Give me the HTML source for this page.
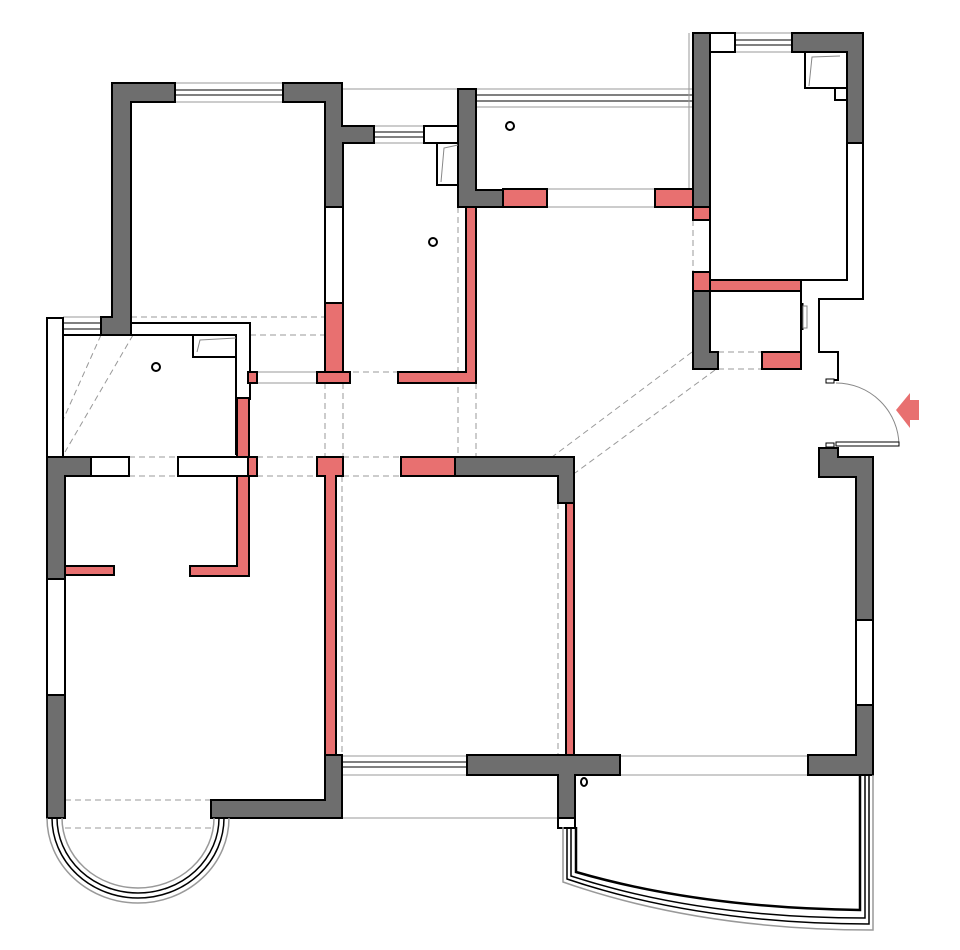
<!DOCTYPE html>
<html><head><meta charset="utf-8"><style>html,body{margin:0;padding:0;background:#fff}svg{display:block}</style></head>
<body>
<svg width="960" height="950" viewBox="0 0 960 950" xmlns="http://www.w3.org/2000/svg">
<g fill="none" stroke="#999" stroke-width="1">
<line x1="175" y1="83" x2="283" y2="83"/><line x1="175" y1="102" x2="283" y2="102"/>
<line x1="175" y1="90" x2="283" y2="90" stroke="#000"/><line x1="175" y1="95" x2="283" y2="95" stroke="#000"/>
<line x1="342" y1="89" x2="458" y2="89"/>
<line x1="374" y1="126" x2="424" y2="126"/><line x1="374" y1="143" x2="424" y2="143"/>
<line x1="374" y1="132" x2="424" y2="132" stroke="#000"/><line x1="374" y1="137" x2="424" y2="137" stroke="#000"/>
<line x1="476" y1="89" x2="692" y2="89"/><line x1="476" y1="107" x2="692" y2="107"/>
<line x1="476" y1="95" x2="692" y2="95" stroke="#000"/><line x1="476" y1="101" x2="692" y2="101" stroke="#000"/>
<line x1="689" y1="33" x2="689" y2="190"/>
<line x1="547" y1="189" x2="655" y2="189"/><line x1="547" y1="207" x2="655" y2="207"/>
<line x1="735" y1="33" x2="792" y2="33"/><line x1="735" y1="52" x2="792" y2="52"/>
<line x1="735" y1="40" x2="792" y2="40" stroke="#000"/><line x1="735" y1="45" x2="792" y2="45" stroke="#000"/>
<line x1="63" y1="317" x2="101" y2="317"/><line x1="63" y1="335" x2="101" y2="335"/>
<line x1="63" y1="323" x2="101" y2="323" stroke="#000"/><line x1="63" y1="329" x2="101" y2="329" stroke="#000"/>
<line x1="257" y1="372" x2="317" y2="372"/><line x1="257" y1="383" x2="317" y2="383"/>
<line x1="342" y1="756" x2="467" y2="756"/><line x1="342" y1="775" x2="467" y2="775"/>
<line x1="342" y1="762" x2="467" y2="762" stroke="#000"/><line x1="342" y1="767" x2="467" y2="767" stroke="#000"/>
<line x1="620" y1="756" x2="808" y2="756"/><line x1="620" y1="775" x2="808" y2="775"/>
<line x1="342" y1="818" x2="558" y2="818"/>
</g>
<g fill="none" stroke="#999" stroke-width="1" stroke-dasharray="6,4">
<line x1="131" y1="317" x2="325" y2="317"/><line x1="250" y1="335" x2="325" y2="335"/>
<line x1="129" y1="457" x2="178" y2="457"/><line x1="129" y1="476" x2="178" y2="476"/>
<line x1="257" y1="457" x2="317" y2="457"/><line x1="257" y1="476" x2="317" y2="476"/>
<line x1="343" y1="457" x2="401" y2="457"/><line x1="343" y1="476" x2="401" y2="476"/>
<line x1="325" y1="383" x2="325" y2="457"/><line x1="343" y1="383" x2="343" y2="457"/>
<line x1="458" y1="207" x2="458" y2="457"/><line x1="476" y1="383" x2="476" y2="457"/>
<line x1="343" y1="372" x2="466" y2="372"/>
<line x1="342" y1="476" x2="342" y2="755"/><line x1="558" y1="503" x2="558" y2="755"/>
<line x1="693" y1="220" x2="693" y2="272"/><line x1="710" y1="220" x2="710" y2="272"/>
<line x1="718" y1="352" x2="762" y2="352"/><line x1="718" y1="369" x2="762" y2="369"/>
<line x1="101" y1="335" x2="63" y2="420"/><line x1="133" y1="335" x2="65" y2="452"/>
<line x1="692" y1="352" x2="552" y2="457"/><line x1="715" y1="370" x2="575" y2="473"/>
<line x1="65" y1="800" x2="211" y2="800"/><line x1="65" y1="828" x2="211" y2="828"/>
</g>
<g fill="#fff" stroke="#000" stroke-width="2">
<rect x="47" y="318" width="16" height="139"/>
<rect x="325" y="207" width="18" height="96"/>
<polyline points="131,323 250,323 250,400" fill="none"/>
<polyline points="63,335 236,335 236,455" fill="none"/>
<rect x="193" y="335" width="43" height="22"/>
<rect x="424" y="126" width="34" height="17"/>
<rect x="437" y="143" width="21" height="42"/>
<rect x="91" y="457" width="38" height="19"/>
<rect x="178" y="457" width="70" height="19"/>
<rect x="710" y="33" width="25" height="19"/>
<rect x="805" y="52" width="42" height="36"/>
<rect x="835" y="88" width="12" height="12"/>
<polyline points="710,52 710,280 847,280 847,143" fill="none"/>
<polyline points="343,143 343,372" fill="none"/>
<polyline points="863,143 863,299 819,299 819,352 838,352 838,380 828,380" fill="none"/>
<polyline points="801,291 801,369" fill="none"/>
<rect x="47" y="579" width="18" height="116"/>
<rect x="856" y="620" width="17" height="85"/>
<rect x="558" y="818" width="17" height="10"/>
<rect x="826" y="379" width="8" height="4" stroke-width="1"/>
<rect x="826" y="443" width="8" height="4" stroke-width="1"/>
</g>
<line x1="802" y1="303" x2="802" y2="330" stroke="#000" stroke-width="3"/>
<rect x="803" y="306" width="4" height="22" fill="none" stroke="#888"/>
<polygon points="720,283 745,283 745,289 720,290" fill="#000"/>
<g fill="#6e6e6e" stroke="#000" stroke-width="2">
<polygon points="112,83 175,83 175,102 131,102 131,335 101,335 101,317 112,317"/>
<polygon points="283,83 342,83 342,126 374,126 374,143 343,143 343,207 325,207 325,102 283,102"/>
<polygon points="458,89 476,89 476,190 503,190 503,207 458,207"/>
<polygon points="693,33 710,33 710,207 693,207"/>
<polygon points="792,33 863,33 863,143 847,143 847,52 792,52"/>
<polygon points="693,291 710,291 710,352 718,352 718,369 693,369"/>
<polygon points="47,457 91,457 91,476 65,476 65,579 47,579"/>
<rect x="47" y="695" width="18" height="123"/>
<polygon points="455,457 574,457 574,503 558,503 558,476 455,476"/>
<polygon points="819,448 838,448 838,457 873,457 873,620 856,620 856,477 819,477"/>
<polygon points="856,705 873,705 873,775 808,775 808,755 856,755"/>
<polygon points="325,755 342,755 342,818 211,818 211,800 325,800"/>
<polygon points="467,755 620,755 620,775 575,775 575,818 558,818 558,775 467,775"/>
</g>
<g fill="#e87070" stroke="#000" stroke-width="2">
<rect x="325" y="303" width="18" height="69"/>
<rect x="317" y="372" width="33" height="11"/>
<polygon points="466,207 476,207 476,383 398,383 398,372 466,372"/>
<rect x="503" y="189" width="44" height="18"/>
<rect x="655" y="189" width="38" height="18"/>
<rect x="693" y="207" width="17" height="13"/>
<rect x="693" y="272" width="17" height="19"/>
<rect x="710" y="280" width="91" height="11"/>
<rect x="762" y="352" width="39" height="17"/>
<rect x="237" y="398" width="12" height="59"/>
<rect x="248" y="372" width="9" height="11"/>
<rect x="248" y="457" width="9" height="19"/>
<polygon points="237,476 249,476 249,576 190,576 190,566 237,566"/>
<rect x="65" y="566" width="49" height="9"/>
<polygon points="317,457 343,457 343,476 336,476 336,755 325,755 325,476 317,476"/>
<rect x="401" y="457" width="54" height="19"/>
<rect x="566" y="503" width="8" height="252"/>
</g>
<g fill="none" stroke="#000" stroke-width="2">
<circle cx="156" cy="367" r="4"/><circle cx="433" cy="242" r="4"/><circle cx="510" cy="126" r="4"/>
<ellipse cx="584" cy="782" rx="3" ry="4"/>
</g>
<g fill="none" stroke="#888" stroke-width="1">
<polyline points="197,352 200,340 236,338"/><polyline points="441,182 444,148 458,145"/>
<polyline points="809,86 812,57 840,56"/>
<path d="M836,383 A63,63 0 0 1 899,445"/>
</g>
<rect x="836" y="442" width="63" height="4" fill="#fff" stroke="#000" stroke-width="1"/>
<polygon points="896,410 910,393 910,400 919,400 919,420 910,420 910,428" fill="#e87070"/>
<g fill="none" stroke="#000" stroke-width="1.5">
<path d="M47,818 A91,85 0 0 0 229,818" stroke="#999"/>
<path d="M52,818 A86,80 0 0 0 224,818"/>
<path d="M57,818 A81,75 0 0 0 219,818"/>
<path d="M62,818 A76,70 0 0 0 214,818" stroke="#999"/>
</g>
<g fill="none" stroke-width="1.5">
<path d="M563,827 L563,882 Q700,930 873,930 L873,775" stroke="#999"/>
<path d="M567,827 L567,879 Q700,924 869,924 L869,775" stroke="#000"/>
<path d="M571,827 L571,876 Q700,918 865,918 L865,775" stroke="#000"/>
<path d="M576,827 L576,872 Q700,908 860,910 L860,775" stroke="#000" stroke-width="2.5"/>
</g>
</svg>
</body></html>
